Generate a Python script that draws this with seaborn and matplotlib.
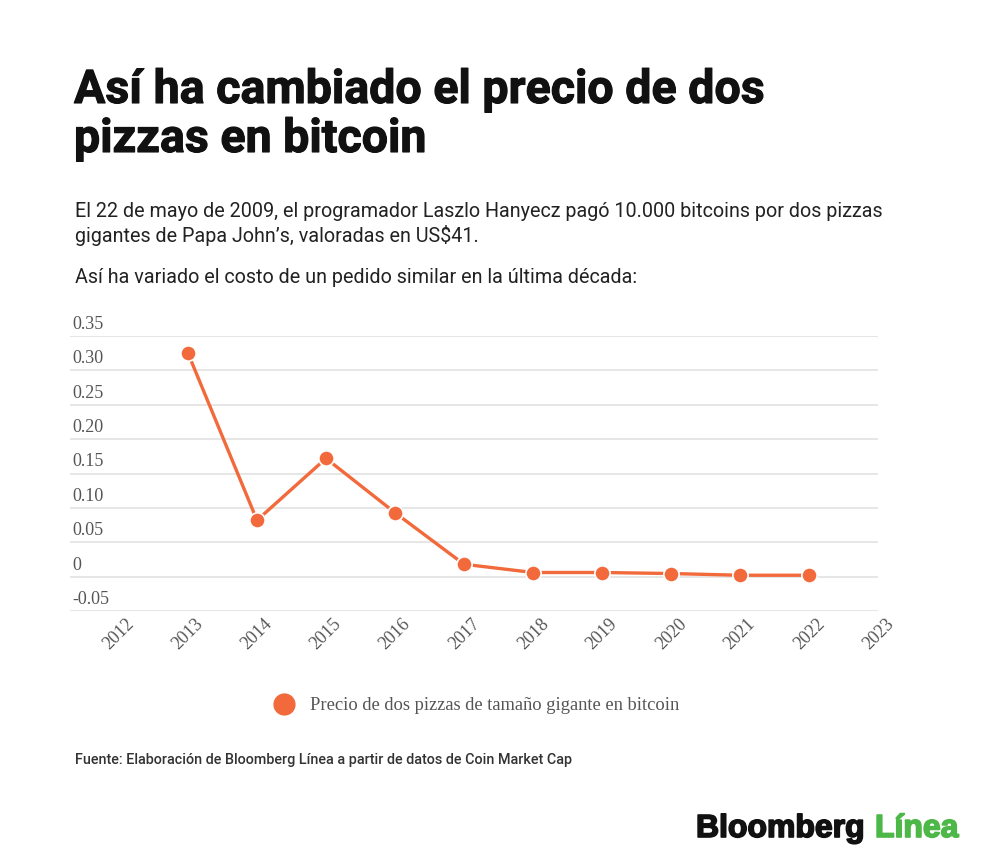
import numpy as np
import pandas as pd
import seaborn as sns
import matplotlib.pyplot as plt
import matplotlib.patheffects as pe
from matplotlib.lines import Line2D
from matplotlib.transforms import ScaledTranslation

# datos
anios = [2013, 2014, 2015, 2016, 2017, 2018, 2019, 2020, 2021, 2022]
precio_btc = [0.325, 0.082, 0.172, 0.093, 0.018, 0.006, 0.006, 0.0045, 0.002, 0.002]
ticks_y = [-0.05, 0, 0.05, 0.10, 0.15, 0.20, 0.25, 0.30, 0.35]
labels_y = ['-0.05', '0', '0.05', '0.10', '0.15', '0.20', '0.25', '0.30', '0.35']
ticks_x = list(range(2012, 2024))

naranja = '#F26A3B'
sns.set_theme(style='white')
plt.rcParams['font.family'] = ['Roboto', 'DejaVu Sans']

df = pd.DataFrame({'anio': anios, 'precio': precio_btc})

fig = plt.figure(figsize=(10, 8.68), dpi=100)
ax = fig.add_axes([0.07, 1 - 611 / 868, 0.808, 275 / 868])

sns.lineplot(data=df, x='anio', y='precio', ax=ax, color=naranja, linewidth=2.4,
             marker='o', markersize=11, markeredgecolor='white', markeredgewidth=1.2)

ax.set_xlim(2011.29, 2023)
ax.set_ylim(-0.05, 0.35)
ax.set_xlabel('')
ax.set_ylabel('')
for s in ax.spines.values():
    s.set_visible(False)
ax.set_yticks(ticks_y, labels_y)
ax.yaxis.grid(True, color='#e2e2e2', linewidth=1.2)
ax.xaxis.grid(False)
ax.tick_params(axis='y', length=0, pad=0)
ax.tick_params(axis='x', length=0, pad=3)
for lab in ax.get_yticklabels():
    lab.set_ha('left')
    lab.set_va('bottom')
    lab.set_fontfamily('Liberation Serif')
    lab.set_fontsize(13)
    lab.set_color('#555555')
    lab.set_transform(lab.get_transform() + ScaledTranslation(0.02, 0.03, fig.dpi_scale_trans))
ax.set_xticks(ticks_x, [str(t) for t in ticks_x])
for lab in ax.get_xticklabels():
    lab.set_rotation(45)
    lab.set_ha('right')
    lab.set_va('top')
    lab.set_fontfamily('Liberation Serif')
    lab.set_fontsize(13)
    lab.set_color('#555555')
    lab.set_rotation_mode('anchor')
    lab.set_transform(lab.get_transform() + ScaledTranslation(0.07, 0, fig.dpi_scale_trans))

# textos
def px(x, y):
    return x / 1000, 1 - y / 868

grueso = [pe.withStroke(linewidth=0.8, foreground='#111111')]
fig.text(*px(74, 103), 'Así ha cambiado el precio de dos', fontsize=33.5, fontweight='bold',
         color='#111111', va='baseline', path_effects=grueso)
fig.text(*px(74, 152), 'pizzas en bitcoin', fontsize=33.5, fontweight='bold',
         color='#111111', va='baseline', path_effects=grueso)
fig.text(*px(75, 217), 'El 22 de mayo de 2009, el programador Laszlo Hanyecz pagó 10.000 bitcoins por dos pizzas',
         fontsize=14.2, color='#222222', va='baseline')
fig.text(*px(75, 242), 'gigantes de Papa John’s, valoradas en US$41.',
         fontsize=14.2, color='#222222', va='baseline')
fig.text(*px(75, 283), 'Así ha variado el costo de un pedido similar en la última década:',
         fontsize=14.2, color='#222222', va='baseline')

# leyenda
handle = Line2D([], [], linestyle='none', marker='o', markersize=15, color=naranja)
fig.legend([handle], ['Precio de dos pizzas de tamaño gigante en bitcoin'],
           loc='center left', bbox_to_anchor=px(249, 706), frameon=False,
           prop={'family': 'Liberation Serif', 'size': 13.3}, labelcolor='#555555',
           handletextpad=0.4)

fig.text(*px(75, 764), 'Fuente: Elaboración de Bloomberg Línea a partir de datos de Coin Market Cap',
         fontsize=10.4, fontweight='medium', color='#333333', va='baseline')

fig.text(*px(696, 837), 'Bloomberg', fontsize=23, fontweight='bold', family='Liberation Sans',
         color='#111111', va='baseline',
         path_effects=[pe.withStroke(linewidth=1.2, foreground='#111111')])
fig.text(*px(875, 837), 'Línea', fontsize=23, fontweight='bold', family='Liberation Sans',
         color='#4DB848', va='baseline',
         path_effects=[pe.withStroke(linewidth=1.2, foreground='#4DB848')])

fig.savefig('out.png', dpi=100, facecolor='white')
